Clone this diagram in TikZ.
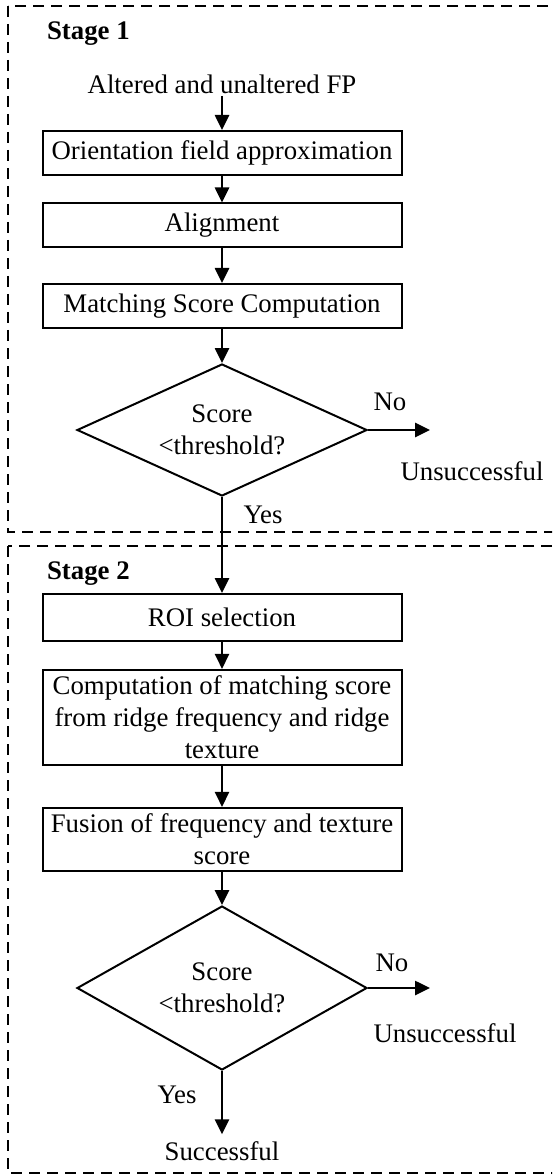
\documentclass[tikz,border=0pt]{standalone}
\usepackage{fontspec}
\setmainfont{Liberation Serif}
\usetikzlibrary{arrows.meta,shapes.geometric}

\begin{document}
\begin{tikzpicture}[x=0.5pt,y=-0.5pt,font=\fontsize{13.4}{16}\selectfont,
  box/.style={draw,line width=1pt,minimum width=179.5pt,minimum height=22pt,align=center,inner ysep=3pt},
  decision/.style={draw,diamond,line width=1pt,minimum width=145pt,inner sep=0pt,aspect=2.2,align=center},
  stagebox/.style={draw,line width=0.7pt,dash pattern=on 5.5pt off 3.5pt}]
\clip (0,0) rectangle (552,1176);
% stage frames
\draw[stagebox] (8,6) rectangle (580,532);
\draw[stagebox] (8,546) rectangle (580,1173);
			\begin{scope}
    \node[anchor=west] (st1) at (40,34) {\bfseries Stage 1};
    \node[inner sep=1pt] (fp) at (222,84) {Altered and unaltered FP};
    \node[box] (orient) at (222,153) {Orientation field approximation};
    \node[box] (align) at (222,225.5) {Alignment};
    \node[box] (match) at (222,306) {Matching Score Computation};
    \node[decision,minimum height=66pt] (dec1) at (222,430) {Score\\<threshold?};
    \node (no1) at (390,402) {No};
    \node (fail1) at (472,471) {Unsuccessful};
    \node (yes1) at (263,515) {Yes};
    \coordinate (out1) at (430,430);
    \node[anchor=west] (st2) at (40,574) {\bfseries Stage 2};
    \node[box,minimum height=23.5pt] (roi) at (222,617.5) {ROI selection};
    \node[box] (comp) at (222,717.5) {Computation of matching score\\from ridge frequency and ridge\\texture};
    \node[box] (fuse) at (222,839.5) {Fusion of frequency and texture\\score};
    \node[decision,minimum height=82pt] (dec2) at (222,988) {Score\\<threshold?};
    \node (no2) at (392,963) {No};
    \node (fail2) at (445,1033) {Unsuccessful};
    \node (yes2) at (177,1095) {Yes};
    \node (succ) at (222,1151) {Successful};
    \coordinate (out2) at (430,988);
			\end{scope}
			\begin{scope}[>={Triangle[width=7pt,length=7.5pt]},
              every edge/.style={draw,line width=1.3pt}]
    \path [->] (fp) edge (orient);
    \path [->] (orient) edge (align);
    \path [->] (align) edge (match);
    \path [->] (match) edge (dec1);
    \path [->] (dec1.east) edge (out1);
    \path [->] (dec1.south) edge (roi);
    \path [->] (roi) edge (comp);
    \path [->] (comp) edge (fuse);
    \path [->] (fuse) edge (dec2);
    \path [->] (dec2.east) edge (out2);
    \path [->] (dec2.south) edge (succ);
			\end{scope}
\end{tikzpicture}
\end{document}
